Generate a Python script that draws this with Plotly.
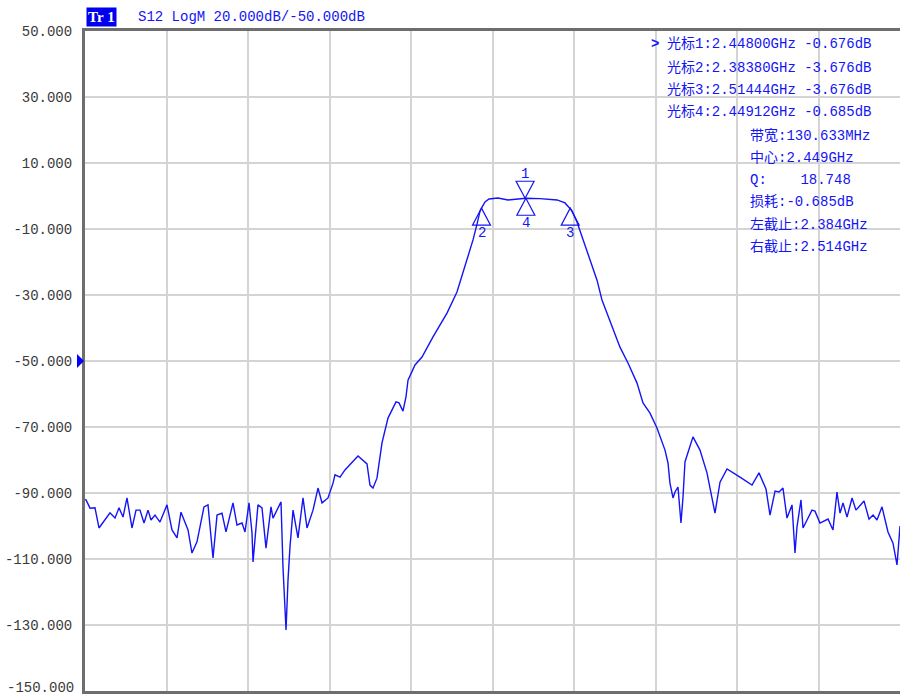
import plotly.graph_objects as go

# ---- trace data (frequency in GHz, S12 in dB) ----
freq_ghz = [
    1.8000, 1.8015, 1.8074, 1.8147, 1.8206, 1.8265, 1.8368, 1.8442, 1.8501, 1.8560,
    1.8618, 1.8692, 1.8751, 1.8810, 1.8869, 1.8928, 1.8972, 1.9031, 1.9104, 1.9207,
    1.9281, 1.9355, 1.9413, 1.9517, 1.9575, 1.9649, 1.9752, 1.9811, 1.9885, 1.9944,
    2.0017, 2.0076, 2.0179, 2.0238, 2.0312, 2.0356, 2.0415, 2.0459, 2.0474, 2.0547,
    2.0606, 2.0665, 2.0739, 2.0768, 2.0886, 2.0915, 2.0960, 2.0989, 2.1018, 2.1063,
    2.1136, 2.1210, 2.1269, 2.1357, 2.1431, 2.1490, 2.1578, 2.1652, 2.1681, 2.1755,
    2.1828, 2.2020, 2.2152, 2.2196, 2.2240, 2.2299, 2.2373, 2.2461, 2.2579, 2.2623,
    2.2682, 2.2726, 2.2756, 2.2859, 2.2962, 2.3124, 2.3330, 2.3477, 2.3595, 2.3713,
    2.3772, 2.3816, 2.3838, 2.3890, 2.3948, 2.4081, 2.4228, 2.4480, 2.4491, 2.4699,
    2.4950, 2.5067, 2.5144, 2.5171, 2.5244, 2.5318, 2.5391, 2.5436, 2.5539, 2.5612,
    2.5686, 2.5774, 2.5877, 2.5995, 2.6128, 2.6216, 2.6319, 2.6422, 2.6540, 2.6584,
    2.6613, 2.6658, 2.6687, 2.6731, 2.6746, 2.6775, 2.6805, 2.6834, 2.6952, 2.7055,
    2.7158, 2.7276, 2.7350, 2.7453, 2.7644, 2.7821, 2.7924, 2.8027, 2.8086, 2.8160,
    2.8219, 2.8277, 2.8336, 2.8410, 2.8454, 2.8483, 2.8542, 2.8572, 2.8704, 2.8748,
    2.8822, 2.8940, 2.9013, 2.9072, 2.9117, 2.9161, 2.9220, 2.9294, 2.9352, 2.9470,
    2.9544, 2.9603, 2.9661, 2.9735, 2.9823, 2.9897, 2.9956, 2.9985, 3.0000,
]
s12_db = [
    -92.0, -92.1, -94.6, -94.5, -100.6, -98.8, -96.0, -97.6, -94.5, -97.3,
    -91.5, -100.6, -95.2, -95.2, -99.1, -95.2, -98.2, -96.7, -98.8, -93.6,
    -101.2, -103.6, -95.8, -101.2, -108.2, -104.8, -94.2, -93.6, -109.7, -96.7,
    -96.1, -101.8, -93.0, -99.7, -99.1, -101.8, -93.0, -102.1, -110.9, -93.6,
    -94.5, -106.7, -94.2, -97.6, -92.7, -112.4, -131.5, -116.4, -106.4, -95.2,
    -103.6, -91.5, -100.6, -95.2, -88.5, -93.0, -91.5, -87.0, -84.5, -85.2,
    -83.0, -78.8, -81.2, -87.6, -88.5, -85.5, -74.8, -67.3, -62.4, -62.7,
    -65.2, -60.9, -55.8, -51.2, -48.8, -42.7, -35.5, -29.1, -21.5, -13.3,
    -8.5, -4.6, -3.676, -1.8, -0.9, -0.6, -1.2, -0.676, -0.685, -0.8,
    -1.2, -2.1, -3.676, -4.5, -7.9, -12.4, -16.4, -19.4, -25.5, -31.5,
    -35.5, -40.6, -45.8, -50.6, -56.7, -62.7, -65.8, -70.3, -77.0, -80.9,
    -87.0, -91.5, -89.7, -88.2, -91.5, -99.1, -91.2, -80.6, -73.0, -77.0,
    -83.9, -96.1, -86.7, -82.7, -85.2, -87.6, -83.9, -88.8, -96.7, -89.4,
    -89.7, -88.5, -97.6, -93.6, -108.2, -100.3, -92.1, -100.6, -95.2, -95.5,
    -99.1, -97.9, -101.2, -89.7, -96.1, -93.0, -97.3, -91.5, -95.2, -92.4,
    -97.9, -96.7, -98.2, -94.2, -101.8, -105.2, -111.8, -102.1, -100.0,
]

# ---- markers ----
marker_ids = ["1", "2", "3", "4"]
marker_freq = [2.44800, 2.38380, 2.51444, 2.44912]
marker_db = [-0.676, -3.676, -3.676, -0.685]
marker_points_down = [True, False, False, False]

# ---- axis settings ----
x_start, x_stop, x_div = 1.8, 3.0, 0.12
y_ref_level = -50.0
y_min, y_max = -150.0, 50.0
y_ticks = [50, 30, 10, -10, -30, -50, -70, -90, -110, -130]
y_tick_labels = ["50.000", "30.000", "10.000", "-10.000", "-30.000", "-50.000",
                 "-70.000", "-90.000", "-110.000", "-130.000"]
y_bottom_label = "-150.000"

# ---- text ----
header_text = "S12 LogM 20.000dB/-50.000dB"
marker_lines = [
    "光标1:2.44800GHz -0.676dB",
    "光标2:2.38380GHz -3.676dB",
    "光标3:2.51444GHz -3.676dB",
    "光标4:2.44912GHz -0.685dB",
]
stat_lines = [
    "带宽:130.633MHz",
    "中心:2.449GHz",
    "Q:\u00a0\u00a0\u00a0\u00a018.748",
    "损耗:-0.685dB",
    "左截止:2.384GHz",
    "右截止:2.514GHz",
]

BLUE = "#1414f5"
MONO = "Liberation Mono, Noto Sans CJK SC, monospace"
TICKFONT = dict(family="Liberation Mono, monospace", size=14, color="#3a3a3a")

fig = go.Figure()
fig.add_trace(go.Scatter(
    x=freq_ghz, y=s12_db, mode="lines",
    line=dict(color=BLUE, width=1.4), hoverinfo="skip", showlegend=False,
))

shapes = []
annotations = []
for mid, f, d, down in zip(marker_ids, marker_freq, marker_db, marker_points_down):
    if down:
        path = "M-9,17 L9,17 L0,0 Z"
        shift = 24
    else:
        path = "M-9,-17 L9,-17 L0,0 Z"
        shift = -25
    shapes.append(dict(
        type="path", xref="x", yref="y", xsizemode="pixel", ysizemode="pixel",
        xanchor=f, yanchor=d, path=path, line=dict(color=BLUE, width=1.2),
        fillcolor="rgba(0,0,0,0)", layer="above",
    ))
    annotations.append(dict(
        x=f, y=d, xref="x", yref="y", text=mid, showarrow=False,
        yshift=shift, font=dict(family=MONO, size=14, color=BLUE),
    ))

# reference level indicator on the left axis
shapes.append(dict(
    type="path", xref="paper", yref="y", xsizemode="pixel", ysizemode="pixel",
    xanchor=0, yanchor=y_ref_level, path="M-8,7 L-8,-7 L-1,0 Z",
    fillcolor="#0000ff", line=dict(color="#0000ff", width=0), layer="above",
))

# bottom y label (nudged up slightly so it stays inside the page)
annotations.append(dict(
    x=0, y=y_min, xref="paper", yref="y", xanchor="right", yanchor="middle",
    xshift=-9, yshift=3, text=y_bottom_label, showarrow=False, font=TICKFONT,
))

# header
annotations.append(dict(
    x=0.0012, y=1.0212, xref="paper", yref="paper", xanchor="left", yanchor="middle",
    text="<b>Tr&nbsp;1</b>", showarrow=False, bgcolor="#0000f0", borderpad=1,
    font=dict(family="Liberation Serif, serif", size=15, color="white"),
))
annotations.append(dict(
    x=0.0626, y=1.0212, xref="paper", yref="paper", xanchor="left", yanchor="middle",
    text=header_text, showarrow=False,
    font=dict(family=MONO, size=14, color=BLUE),
))

# marker table
line_y1 = [0.9803, 0.9439, 0.9106, 0.8773]
for txt, yy in zip(marker_lines, line_y1):
    annotations.append(dict(
        x=0.7117, y=yy, xref="paper", yref="paper", xanchor="left", yanchor="middle",
        text=txt, showarrow=False, font=dict(family=MONO, size=14, color=BLUE),
    ))
annotations.append(dict(
    x=0.6994, y=0.9803, xref="paper", yref="paper", xanchor="center", yanchor="middle",
    text="<b>&gt;</b>", showarrow=False, font=dict(family=MONO, size=14, color=BLUE),
))
line_y2 = [0.8424, 0.8076, 0.7742, 0.7409, 0.7061, 0.6727]
for txt, yy in zip(stat_lines, line_y2):
    annotations.append(dict(
        x=0.8135, y=yy, xref="paper", yref="paper", xanchor="left", yanchor="middle",
        text=txt, showarrow=False, font=dict(family=MONO, size=14, color=BLUE),
    ))

fig.update_layout(
    width=900, height=698, autosize=False,
    margin=dict(l=85, r=0, t=31, b=7, autoexpand=False),
    paper_bgcolor="white", plot_bgcolor="white",
    shapes=shapes, annotations=annotations,
    showlegend=False,
    xaxis=dict(
        range=[x_start, x_stop], tick0=x_start, dtick=x_div,
        showticklabels=False, ticks="", showgrid=True,
        gridcolor="#d4d4d4", gridwidth=1.5, zeroline=False,
        showline=True, linecolor="#6e6e6e", linewidth=3, mirror=True,
        fixedrange=True, automargin=False,
    ),
    yaxis=dict(
        range=[y_min, y_max], tickmode="array", tickvals=y_ticks, ticktext=y_tick_labels,
        showgrid=True, gridcolor="#d4d4d4", gridwidth=1.5, zeroline=False,
        showline=True, linecolor="#6e6e6e", linewidth=3, mirror=True,
        ticks="outside", ticklen=7, tickcolor="rgba(0,0,0,0)",
        tickfont=TICKFONT, ticklabeloverflow="allow",
        fixedrange=True, automargin=False,
    ),
)

fig.write_html(
    "out.html",
    config={"displayModeBar": False, "staticPlot": False},
    post_script="document.body.style.margin='0';document.body.style.overflow='hidden';",
)
